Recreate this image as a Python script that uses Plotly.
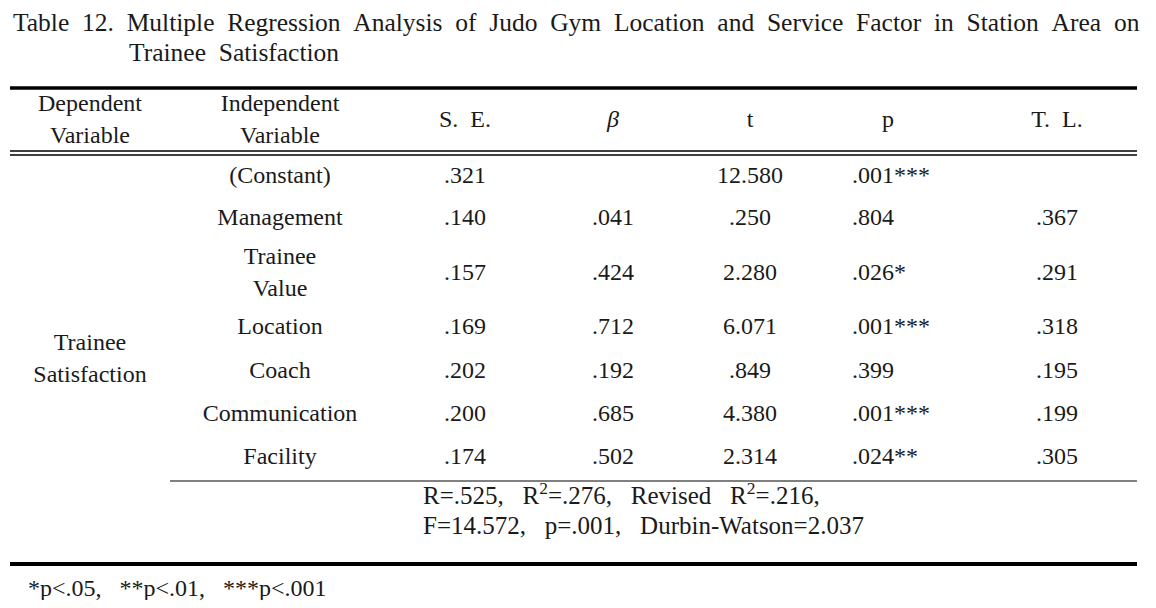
import plotly.graph_objects as go

# table content
title_1 = "Table 12. Multiple Regression Analysis of Judo Gym Location and Service Factor in Station Area on"
title_2 = "Trainee Satisfaction"
headers = ["Dependent<br>Variable", "Independent<br>Variable", "S.  E.", "<i>β</i>", "t", "p", "T.  L."]
dependent = "Trainee<br>Satisfaction"
independent = ["(Constant)", "Management", "Trainee<br>Value", "Location", "Coach", "Communication", "Facility"]
se = [".321", ".140", ".157", ".169", ".202", ".200", ".174"]
beta = ["", ".041", ".424", ".712", ".192", ".685", ".502"]
t_val = ["12.580", ".250", "2.280", "6.071", ".849", "4.380", "2.314"]
p_val = [".001***", ".804", ".026*", ".001***", ".399", ".001***", ".024**"]
tl = ["", ".367", ".291", ".318", ".195", ".199", ".305"]
summary = ["R=.525,   R<sup>2</sup>=.276,   Revised   R<sup>2</sup>=.216,",
           "F=14.572,   p=.001,   Durbin-Watson=2.037"]
footnote = "*p<.05,   **p<.01,   ***p<.001"

# layout (pixel coords of the page; the html body has an 8px margin)
W, H, M = 1156, 608, 8
col_x = [90, 280, 465, 613, 750, 852, 1057]
head_y = 121
row_y = [177, 219, 274, 328, 372, 415, 458]
FONT = "Liberation Serif"
FS = 24
INK = "#1a1a1a"


def nb(s):
    return s.replace(" ", "\u00a0")


fig = go.Figure()


def txt(x, y, text, pos="middle center", size=FS):
    # skip empty cells
    cells = [(a, b, s) for a, b, s in zip(x, y, text) if s]
    fig.add_trace(go.Scatter(x=[c[0] for c in cells], y=[c[1] for c in cells],
                             text=[nb(c[2]) for c in cells], mode="text",
                             textposition=pos, hoverinfo="skip", showlegend=False,
                             textfont=dict(family=FONT, size=size, color=INK)))


# header
txt(col_x[:5] + [888, col_x[6]], [head_y] * 7, headers)
# body
txt([col_x[0]], [360], [dependent])
txt([col_x[1]] * 7, row_y, independent)
txt([col_x[2]] * 7, row_y, se)
txt([col_x[3]] * 7, row_y, beta)
txt([col_x[4]] * 7, row_y, t_val)
txt([col_x[5]] * 7, row_y, p_val, pos="middle right")
txt([col_x[6]] * 7, row_y, tl)
txt([423, 423], [498, 528], summary, pos="middle right", size=25)


# rules
def rule(x0, x1, y, w, c="#000"):
    fig.add_shape(type="line", x0=x0, x1=x1, y0=y, y1=y, line=dict(color=c, width=w))


rule(10, 1137, 88, 3.5)
rule(10, 1137, 151, 1.5)
rule(10, 1137, 155, 1.5)
rule(170, 1137, 481, 2, "#808080")
rule(10, 1137, 564, 4)

# title: justified first line, widened word gaps
fig.add_annotation(x=11, y=22, text=title_1.replace(" ", "\u00a0\u00a0"), showarrow=False,
                   xanchor="left", font=dict(family=FONT, size=25.5, color=INK))
fig.add_annotation(x=127, y=52, text=title_2.replace(" ", "\u00a0\u00a0"), showarrow=False,
                   xanchor="left", font=dict(family=FONT, size=25.5, color=INK))
fig.add_annotation(x=26, y=588, text=nb(footnote), showarrow=False, xanchor="left",
                   font=dict(family=FONT, size=FS, color=INK))

fig.update_xaxes(range=[M, W - M], visible=False)
fig.update_yaxes(range=[H - M, M], visible=False)
fig.update_layout(width=W - 2 * M, height=H - 2 * M, margin=dict(l=0, r=0, t=0, b=0),
                  paper_bgcolor="white", plot_bgcolor="white")
fig.write_html("out.html")
